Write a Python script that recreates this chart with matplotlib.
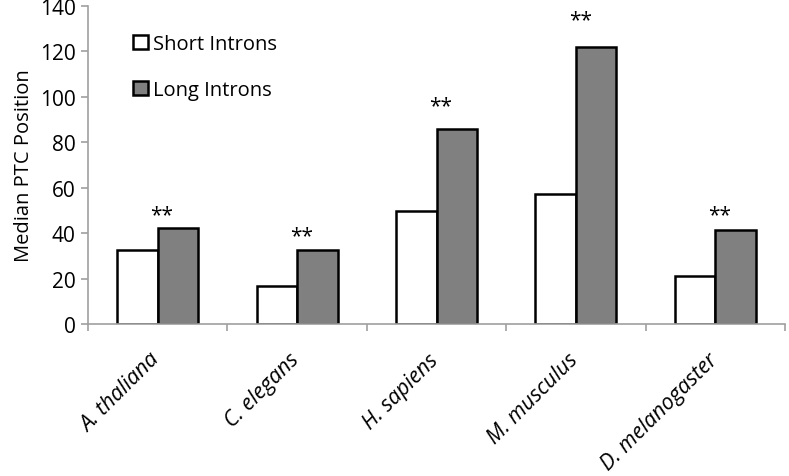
import numpy as np
import matplotlib.pyplot as plt

# data
species = ["A. thaliana", "C. elegans", "H. sapiens", "M. musculus", "D. melanogaster"]
short_introns = [32.7, 16.6, 49.6, 57.2, 21.0]
long_introns = [42.1, 32.6, 85.8, 122.0, 41.2]
star_heights = [47.9, 38.7, 95.9, 134.0, 47.9]

plt.rcParams["font.family"] = ["Open Sans", "DejaVu Sans"]

fig = plt.figure(figsize=(7.89, 4.77), dpi=100)
ax = fig.add_axes([0.1115, 0.3187, 0.8835, 0.6673])

x = np.arange(len(species))
w = 0.29
ax.bar(x - w / 2, short_introns, w, color="white", edgecolor="black", linewidth=1.8, label="Short Introns")
ax.bar(x + w / 2, long_introns, w, color="#808080", edgecolor="black", linewidth=1.8, label="Long Introns")

# significance stars
for i in range(len(species)):
    ax.text(x[i] + 0.03, star_heights[i], "**", ha="center", va="center", fontsize=15)

ax.set_xlim(-0.5, len(species) - 0.5)
ax.set_ylim(0, 140)
ax.set_yticks(range(0, 141, 20))
ax.tick_params(axis="y", labelsize=15, length=5, color="#a0a0a0", width=1.2, pad=4)

# category labels at centres, ticks at boundaries
ax.set_xticks(x - 0.06)
ax.set_xticklabels(species, rotation=45, ha="right", rotation_mode="anchor", style="italic", fontsize=15.5)
ax.tick_params(axis="x", which="major", length=0, pad=18)
ax.set_xticks(np.arange(-0.5, len(species)), minor=True)
ax.tick_params(axis="x", which="minor", length=5, color="#a0a0a0", width=1.2)

for s in ["top", "right"]:
    ax.spines[s].set_visible(False)
for s in ["left", "bottom"]:
    ax.spines[s].set_color("#a0a0a0")
    ax.spines[s].set_linewidth(1.2)

ax.set_ylabel("Median PTC Position", fontsize=14.5, labelpad=4)

leg = ax.legend(loc="upper left", bbox_to_anchor=(0.045, 0.955), frameon=False, fontsize=14.5,
                handlelength=0.7, handleheight=0.7, handletextpad=0.25, labelspacing=1.3,
                borderpad=0.2)

plt.savefig("out.png", dpi=100)
